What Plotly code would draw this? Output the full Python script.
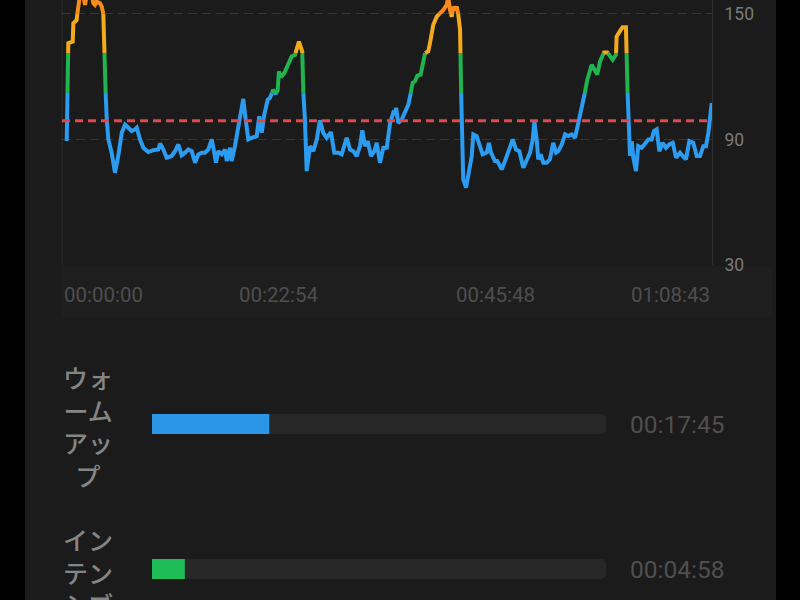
import plotly.graph_objects as go

# ---------------- data ----------------
total_seconds = 4123  # 01:08:43

hr_time_s = [30, 40, 68, 72, 82, 93, 103, 114, 135, 146, 156, 188, 199, 209, 220, 241, 252, 262, 277, 284,
             294, 315, 336, 357, 379, 400, 421, 442, 463, 474, 495, 516, 547, 579, 611, 622, 643, 664, 696, 717,
             738, 759, 780, 801, 823, 844, 865, 886, 907, 928, 950, 964, 977, 991, 1013, 1034, 1045, 1066,
             1076, 1097, 1129, 1150, 1165, 1182, 1203, 1235, 1251, 1267, 1283, 1305, 1319, 1340, 1355, 1368,
             1376, 1389, 1410, 1435, 1457, 1478, 1503, 1524, 1531, 1541, 1552, 1573, 1594, 1616, 1636, 1657,
             1679, 1706, 1727, 1753, 1774, 1806, 1827, 1848, 1869, 1890, 1905, 1922, 1939, 1960, 1981, 1996,
             2017, 2038, 2060, 2081, 2101, 2112,
             2119, 2133, 2155, 2176, 2197, 2212, 2224, 2239, 2254, 2275, 2292, 2303, 2323, 2334, 2355, 2377,
             2398, 2419, 2440, 2450, 2461, 2472, 2482, 2493, 2504, 2514, 2525, 2537, 2545, 2563, 2577, 2599,
             2609, 2630, 2651, 2668, 2694, 2708, 2721, 2746, 2761, 2789, 2810, 2837, 2859, 2880, 2901, 2926,
             2948, 2969, 2986, 2996, 3011, 3021, 3036, 3053, 3074, 3095,
             3116, 3134, 3148, 3170, 3191, 3211, 3233, 3254, 3275, 3296, 3317, 3332, 3360, 3381, 3395, 3413,
             3438, 3459, 3472, 3493, 3514, 3518, 3544, 3556, 3577, 3592, 3603, 3614, 3624, 3641, 3655, 3677,
             3698, 3719, 3740, 3755, 3772, 3789, 3810, 3831, 3852, 3874, 3895, 3920, 3937, 3958, 3979, 4004,
             4026, 4047, 4068, 4085, 4100, 4121]

hr_bpm = [89.2, 136.0, 136.8, 145.6, 146.3, 147.1, 154.3, 159.0, 159.0, 154.3, 159.0, 159.0, 155.1, 154.3, 155.9,
          155.1, 153.5, 150.3, 112.0, 99.5,
          90.0, 83.7, 74.1, 82.1, 93.2, 97.1, 95.6, 94.0, 94.8, 95.6, 90.0, 86.0, 84.0, 84.9, 85.2, 88.1, 85.2,
          81.3, 82.1, 84.4,
          87.6, 82.4, 83.7, 85.2, 84.4, 78.9, 82.9, 83.7, 83.7, 85.2, 90.0, 83.7, 78.9, 84.4, 82.9, 85.2, 79.7, 86.0,
          79.7, 86.8, 101.1, 109.4, 99.5, 90.0, 90.8, 91.6, 101.1, 93.2, 101.9, 109.0, 109.8, 113.8, 111.7, 113.5,
          122.5, 119.8, 121.7, 126.5, 129.7, 130.5, 136.8, 132.0, 112.2, 99.5, 74.9, 86.8, 84.4, 90.0, 99.2, 93.2,
          90.8, 93.5, 83.7, 83.7, 82.9, 90.8, 85.2, 84.4, 82.1, 86.8, 94.4, 86.8, 89.2, 82.1, 84.4, 88.4,
          78.9, 86.0, 86.0, 97.9, 102.7, 102.0,
          105.1, 97.9, 99.5, 102.7, 106.7, 112.2, 117.0, 117.8, 120.5, 121.0, 126.5, 131.3, 132.1, 136.0, 144.8, 148.7,
          150.3, 151.9, 154.3, 158.0, 151.9, 148.7, 153.5, 151.9, 153.5, 149.5, 142.4, 90.0, 71.0, 67.0, 72.5, 82.1,
          92.4, 91.6, 86.8, 82.9, 83.7, 88.4, 83.7, 79.7, 79.7, 75.7, 79.7, 85.2, 90.0, 85.2, 84.4, 76.5,
          80.5, 83.7, 90.0, 98.7, 90.0, 80.5, 82.9, 78.9, 78.9, 80.5,
          88.4, 83.7, 84.4, 87.6, 92.4, 91.6, 92.4, 90.8, 97.9, 104.3, 112.5, 118.6, 125.7, 123.3, 121.0, 127.3,
          131.6, 131.6, 130.5, 128.1, 130.5, 139.2, 142.4, 143.7, 143.7, 99.5, 82.1, 89.2, 81.3, 74.9, 86.8, 86.0,
          88.4, 90.0, 90.0, 94.0, 94.8, 84.4, 88.4, 86.0, 87.6, 88.4, 81.3, 83.7, 82.1, 80.5, 89.2, 88.4,
          82.1, 82.1, 86.8, 86.8, 93.2, 107.5]

zone_bounds = [112.2, 131.3, 150.0]
zone_colors = ["#2b9cf0", "#20b34f", "#f3aa1f", "#f98b1d"]
reference_hr = 99.0

y_ticks = [30, 90, 150]
x_tick_times = [0, 1374, 2748, 4123]
x_tick_labels = ["00:00:00", "00:22:54", "00:45:48", "01:08:43"]

zone_names = ["ウォームアップ", "インテンシブ"]
zone_seconds = [1065, 298]
zone_bar_colors = ["#2b96e6", "#1fbd58"]

# ---------------- helpers ----------------
W, H = 800, 600


def px_x(p):
    return p / W


def px_y(p):
    return 1 - p / H


def zone_of(v):
    return sum(v > b for b in zone_bounds)


def split_by_zone(xs, ys):
    out = [([], []) for _ in range(len(zone_bounds) + 1)]
    for i in range(len(xs) - 1):
        x0, y0, x1, y1 = xs[i], ys[i], xs[i + 1], ys[i + 1]
        cuts = [0.0, 1.0]
        for b in zone_bounds:
            if (y0 - b) * (y1 - b) < 0:
                cuts.append((b - y0) / (y1 - y0))
        cuts.sort()
        for a, c in zip(cuts[:-1], cuts[1:]):
            xa, ya = x0 + a * (x1 - x0), y0 + a * (y1 - y0)
            xb, yb = x0 + c * (x1 - x0), y0 + c * (y1 - y0)
            z = zone_of((ya + yb) / 2)
            zx, zy = out[z]
            if zx and zx[-1] is not None and abs(zx[-1] - xa) < 1e-9 and abs(zy[-1] - ya) < 1e-9:
                zx.append(xb); zy.append(yb)
            else:
                if zx:
                    zx.append(None); zy.append(None)
                zx.extend([xa, xb]); zy.extend([ya, yb])
    return out


def fmt_hms(s):
    return f"{s // 3600:02d}:{(s % 3600) // 60:02d}:{s % 60:02d}"


# ---------------- figure ----------------
fig = go.Figure()

for (zx, zy), col in zip(split_by_zone(hr_time_s, hr_bpm), zone_colors):
    fig.add_trace(go.Scatter(x=zx, y=zy, mode="lines", line=dict(color=col, width=4),
                             connectgaps=False, hoverinfo="skip", showlegend=False,
                             xaxis="x", yaxis="y"))

# bars (tracks + fills)
fig.add_trace(go.Bar(x=[total_seconds] * len(zone_names), y=list(range(len(zone_names))), orientation="h",
                     marker=dict(color="#272727", cornerradius=5, line=dict(width=0)), width=0.138,
                     xaxis="x2", yaxis="y2", showlegend=False, hoverinfo="skip"))
fig.add_trace(go.Bar(x=zone_seconds, y=list(range(len(zone_names))), orientation="h",
                     marker=dict(color=zone_bar_colors, cornerradius=5, line=dict(width=0)), width=0.138,
                     xaxis="x2", yaxis="y2", showlegend=False, hoverinfo="skip"))

shapes = [
    # dark panel
    dict(type="rect", xref="paper", yref="paper", x0=px_x(25), x1=px_x(776), y0=0, y1=1,
         fillcolor="#1b1b1b", line=dict(width=0), layer="below"),
    # slightly lighter x-label band
    dict(type="rect", xref="paper", yref="paper", x0=px_x(61), x1=px_x(772), y0=px_y(318), y1=px_y(266),
         fillcolor="#1e1e1e", line=dict(width=0), layer="below"),
    # left faint border of plot
    dict(type="line", xref="paper", yref="paper", x0=px_x(62), x1=px_x(62), y0=px_y(265), y1=1,
         line=dict(color="#2c2c2c", width=1), layer="below"),
    # reference line
    dict(type="line", xref="x", yref="y", x0=0, x1=total_seconds, y0=reference_hr, y1=reference_hr,
         line=dict(color="#e2474b", width=3, dash="8px,5px"), layer="above"),
]

annotations = []
anchors = ["left"] + ["center"] * (len(x_tick_times) - 2) + ["right"]
for t, lab, anc in zip(x_tick_times, x_tick_labels, anchors):
    annotations.append(dict(x=t, xref="x", y=px_y(295), yref="paper", text=lab, showarrow=False,
                            xanchor=anc, yanchor="middle",
                            font=dict(family="Roboto", size=20.5, color="#4e4e4e")))

for i, (name, secs) in enumerate(zip(zone_names, zone_seconds)):
    wrapped = "<br>".join(name[k:k + 2] for k in range(0, len(name), 2))
    annotations.append(dict(x=px_x(88), xref="paper", y=i, yref="y2", text=wrapped, showarrow=False,
                            xanchor="center", yanchor="middle", align="center", yshift=-2,
                            font=dict(family="Noto Sans CJK JP", size=25, weight=500, color="#858585")))
    annotations.append(dict(x=px_x(628), xref="paper", y=i, yref="y2", text=fmt_hms(secs), showarrow=False,
                            xanchor="left", yanchor="middle",
                            font=dict(family="Roboto", size=24.5, color="#4f4f4f")))

y2_top = -(424 - 340) / 145
y2_bot = 1 + (600 - 569) / 145

fig.update_layout(
    width=W, height=H,
    autosize=False,
    margin=dict(l=0, r=0, t=0, b=0, pad=0, autoexpand=False),
    paper_bgcolor="#000000",
    plot_bgcolor="rgba(0,0,0,0)",
    barmode="overlay",
    shapes=shapes,
    annotations=annotations,
    xaxis=dict(domain=[px_x(62), px_x(712)], range=[0, total_seconds], showgrid=False, zeroline=False,
               showticklabels=False, showline=False, fixedrange=True, anchor="y", automargin=False),
    yaxis=dict(domain=[px_y(265), 1], range=[30, 150 + 14 / 2.1], side="right", tickvals=y_ticks,
               showgrid=True, gridcolor="#363636", griddash="9px,5px", gridwidth=1, zeroline=False,
               showline=True, linecolor="#2f2f2f", linewidth=1, ticks="", ticklabelstandoff=8,
               tickfont=dict(family="Roboto", size=17.5, color="#7a7a7a"), anchor="x", fixedrange=True,
               automargin=False),
    xaxis2=dict(domain=[px_x(152), px_x(606)], range=[0, total_seconds], visible=False, anchor="y2",
                automargin=False),
    yaxis2=dict(domain=[0, px_y(340)], range=[y2_bot, y2_top], visible=False, anchor="x2",
                automargin=False),
)

fig.write_html("out.html", config={"displayModeBar": False, "responsive": False},
               post_script="document.body.style.margin='0';document.body.style.overflow='hidden';")
